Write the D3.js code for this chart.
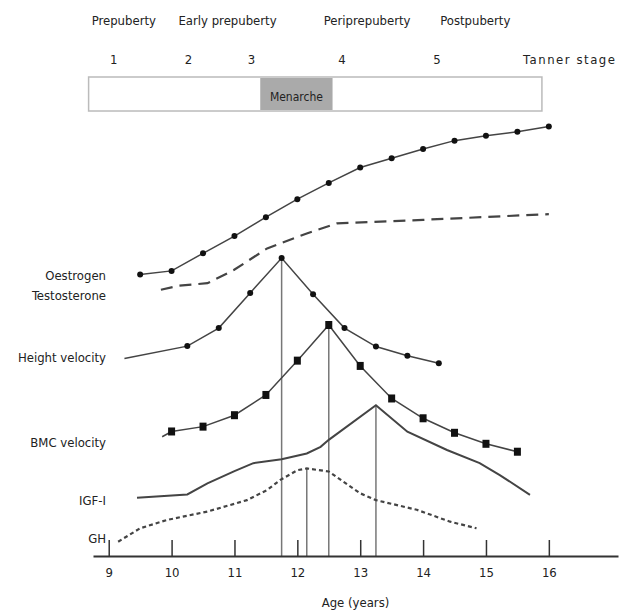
<!DOCTYPE html>
<html>
<head>
<meta charset="utf-8">
<script src="https://cdn.jsdelivr.net/npm/d3@7"></script>
<style>
  body { margin: 0; background: #fff; }
  text { font-family: "Liberation Sans Narrow", "DejaVu Sans Condensed", sans-serif; fill: #222; }
</style>
</head>
<body>
<div id="chart"></div>
<script>
// Age axis ticks
const ageTicks = [9, 10, 11, 12, 13, 14, 15, 16];

// Puberty phases and Tanner stages (ages)
const phaseNames = ["Prepuberty", "Early prepuberty", "Periprepuberty", "Postpuberty"];
const phaseAges = [9.24, 10.89, 13.11, 14.83];
const tannerStages = ["1", "2", "3", "4", "5"];
const tannerAges = [9.08, 10.27, 11.27, 12.71, 14.22];
const stageBarAges = [8.68, 15.89];
const menarcheAges = [11.41, 12.56];

// Height (dotted markers)
const heightAges = [9.5, 10, 10.5, 11, 11.5, 12, 12.5, 13, 13.5, 14, 14.5, 15, 15.5, 16];
const heightVals = [64.0, 64.8, 68.8, 72.7, 77.0, 81.1, 84.8, 88.3, 90.4, 92.5, 94.4, 95.5, 96.4, 97.6];

// Oestrogen / Testosterone (dashed)
const hormoneAges = [9.83, 10.1, 10.57, 10.99, 11.52, 12.15, 12.63, 14.0, 16.0];
const hormoneVals = [60.5, 61.4, 62.0, 65.0, 69.9, 73.3, 75.6, 76.4, 77.7];

// Height velocity (first point has no marker)
const heightVelAges = [9.25, 10.25, 10.75, 11.25, 11.75, 12.25, 12.75, 13.25, 13.75, 14.25];
const heightVelVals = [44.9, 47.7, 51.8, 59.8, 67.7, 59.5, 51.8, 47.6, 45.5, 43.8];

// BMC velocity (first point has no marker)
const bmcAges = [9.85, 10, 10.5, 11, 11.5, 12, 12.5, 13, 13.5, 14, 14.5, 15, 15.5];
const bmcVals = [27.1, 28.3, 29.4, 32.0, 36.6, 44.4, 52.5, 43.2, 35.8, 31.3, 28.0, 25.5, 23.7];

// IGF-I (solid)
const igfAges = [9.45, 10.25, 10.57, 11.0, 11.3, 11.75, 12.15, 12.37, 12.5, 13.25, 13.75, 14.38, 14.9, 15.22, 15.7];
const igfVals = [13.25, 14.0, 16.5, 19.3, 21.1, 22.0, 23.3, 24.8, 26.4, 34.25, 28.25, 24.1, 21.1, 18.4, 13.9];

// GH (dotted)
const ghAges = [9.15, 9.5, 9.93, 10.57, 11.2, 11.52, 11.73, 12.0, 12.15, 12.5, 13.0, 13.25, 13.9, 14.43, 14.85];
const ghVals = [3.25, 6.3, 8.2, 10.1, 12.7, 15.0, 17.3, 19.5, 19.9, 19.2, 14.25, 12.7, 10.5, 7.8, 6.3];

const seriesLabels = [["Oestrogen", "Testosterone"], ["Height velocity"], ["BMC velocity"], ["IGF-I"], ["GH"]];

const width = 628, height = 614;

const svg = d3.select("#chart").append("svg")
  .attr("width", width)
  .attr("height", height);

const x = d3.scaleLinear().domain([8.75, 17.1]).range([93, 618]);
const y = d3.scaleLinear().domain([0, 100]).range([556, 116]);

const zip = (a, b) => a.map((d, i) => ({ age: d, v: b[i] }));
const line = d3.line().x(d => x(d.age)).y(d => y(d.v));

// Header: phases, Tanner stages, menarche bar
svg.selectAll(".phase").data(phaseNames).enter().append("text")
  .attr("x", (d, i) => x(phaseAges[i]))
  .attr("y", 25)
  .attr("text-anchor", "middle")
  .style("font-size", "13px")
  .text(d => d);

svg.selectAll(".tanner").data(tannerStages).enter().append("text")
  .attr("x", (d, i) => x(tannerAges[i]))
  .attr("y", 64)
  .attr("text-anchor", "middle")
  .style("font-size", "13px")
  .text(d => d);

svg.append("text")
  .attr("x", 523).attr("y", 64)
  .attr("textLength", 92)
  .style("font-size", "13px")
  .text("Tanner stage");

svg.append("rect")
  .attr("x", x(stageBarAges[0])).attr("y", 77)
  .attr("width", x(stageBarAges[1]) - x(stageBarAges[0])).attr("height", 34)
  .attr("fill", "#fff").attr("stroke", "#bbb").attr("stroke-width", 1.5);

svg.append("rect")
  .attr("x", x(menarcheAges[0])).attr("y", 78)
  .attr("width", x(menarcheAges[1]) - x(menarcheAges[0])).attr("height", 32)
  .attr("fill", "#aaa");

svg.append("text")
  .attr("x", x((menarcheAges[0] + menarcheAges[1]) / 2)).attr("y", 101)
  .attr("text-anchor", "middle")
  .style("font-size", "12px")
  .text("Menarche");

// Peak reference lines
[[heightVelAges, heightVelVals], [bmcAges, bmcVals], [igfAges, igfVals], [ghAges, ghVals]].forEach(([a, v]) => {
  const i = d3.maxIndex(v);
  svg.append("line")
    .attr("x1", x(a[i])).attr("x2", x(a[i]))
    .attr("y1", y(0)).attr("y2", y(v[i]))
    .attr("stroke", "#777").attr("stroke-width", 1.5);
});

// Curves
const curves = [
  { data: zip(heightAges, heightVals), dash: null, w: 1.5 },
  { data: zip(hormoneAges, hormoneVals), dash: "12,7", w: 2.2 },
  { data: zip(heightVelAges, heightVelVals), dash: null, w: 1.5 },
  { data: zip(bmcAges, bmcVals), dash: null, w: 1.5 },
  { data: zip(igfAges, igfVals), dash: null, w: 2 },
  { data: zip(ghAges, ghVals), dash: "4,3", w: 2.2 }
];

curves.forEach(c => {
  svg.append("path")
    .datum(c.data)
    .attr("d", line)
    .attr("fill", "none")
    .attr("stroke", "#444")
    .attr("stroke-width", c.w)
    .attr("stroke-dasharray", c.dash);
});

// Markers
svg.selectAll(".hdot").data(zip(heightAges, heightVals)).enter().append("circle")
  .attr("cx", d => x(d.age)).attr("cy", d => y(d.v)).attr("r", 3)
  .attr("fill", "#111");

svg.selectAll(".vdot").data(zip(heightVelAges, heightVelVals).slice(1)).enter().append("circle")
  .attr("cx", d => x(d.age)).attr("cy", d => y(d.v)).attr("r", 3)
  .attr("fill", "#111");

svg.selectAll(".bsq").data(zip(bmcAges, bmcVals).slice(1)).enter().append("rect")
  .attr("x", d => x(d.age) - 3.5).attr("y", d => y(d.v) - 4)
  .attr("width", 7).attr("height", 8)
  .attr("fill", "#111");

// Series labels
const labelLevels = [[63.9, 59.3], [45.2], [25.9], [12.7], [4.1]];
seriesLabels.forEach((lines, i) => {
  lines.forEach((t, j) => {
    svg.append("text")
      .attr("x", 106).attr("y", y(labelLevels[i][j]) + 5)
      .attr("text-anchor", "end")
      .style("font-size", "13px")
      .text(t);
  });
});

// Age axis
const axis = svg.append("g")
  .attr("transform", `translate(0,${y(0)})`)
  .call(d3.axisBottom(x).tickValues(ageTicks).tickSize(-16).tickSizeOuter(0).tickPadding(12));
axis.select(".domain").attr("stroke", "#333").attr("stroke-width", 2);
axis.selectAll(".tick line").attr("stroke", "#333").attr("stroke-width", 1.5);
axis.selectAll(".tick text")
  .style("font-size", "13px")
  .style("font-family", "'Liberation Sans Narrow', 'DejaVu Sans Condensed', sans-serif")
  .attr("fill", "#222");

svg.append("text")
  .attr("x", (x.range()[0] + x.range()[1]) / 2).attr("y", 607)
  .attr("text-anchor", "middle")
  .style("font-size", "13px")
  .text("Age (years)");
</script>
</body>
</html>
